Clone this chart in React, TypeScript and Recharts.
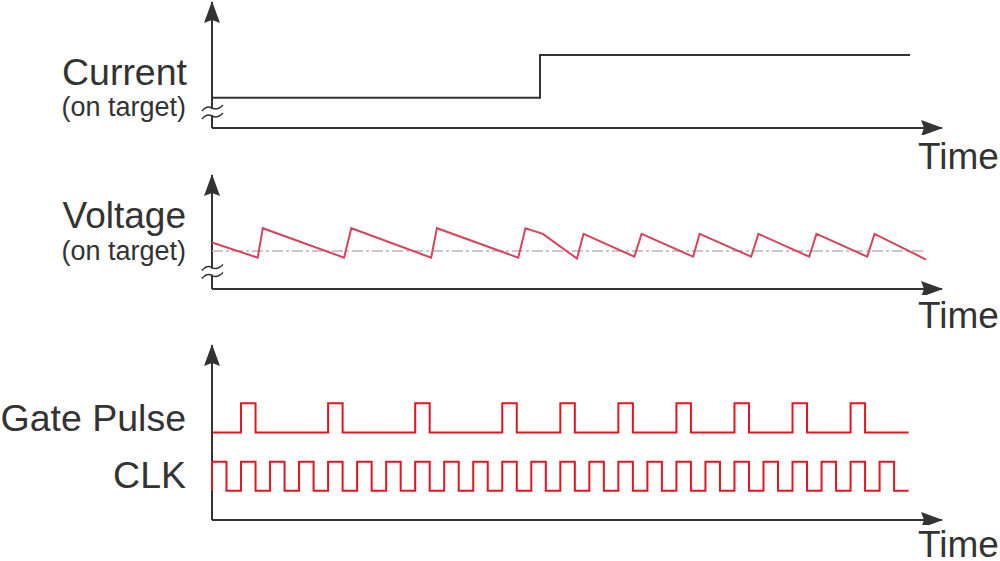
import React from 'react';
import { LineChart, Line, XAxis, YAxis, ReferenceLine, ReferenceDot } from 'recharts';

// time is in half clock periods
const TIME_MAX = 50.3;

// current on target: low, then steps up
const currentTimes = [0, 22.6, 48.1];
const currentLevels = [2.4, 5.8, 5.8];
const currentBreak = 1.27;

// voltage on target (sawtooth around the target level)
const voltTimes = [0, 3.15, 3.5, 9.1, 9.6, 15.1, 15.5, 21.1, 21.6, 22.8, 25.15, 25.6, 29.1, 29.6, 33.15, 33.6, 37.15, 37.65, 41.15, 41.65, 45.15, 45.65, 49.2];
const voltLevels = [4.9, 3.3, 6.4, 3.3, 6.4, 3.3, 6.4, 3.3, 6.4, 5.8, 3.2, 5.8, 3.4, 5.8, 3.4, 5.8, 3.4, 5.8, 3.4, 5.8, 3.4, 5.8, 3.1];
const voltTarget = 4.0;
const voltTargetEnd = 49.0;
const voltBreak = 1.84;

// gate pulse edges
const gateTimes = [0, 2, 3, 8, 9, 14, 15, 20, 21, 24, 25, 28, 29, 32, 33, 36, 37, 40, 41, 44, 45, 48];
const gateLevels = [6, 8, 6, 8, 6, 8, 6, 8, 6, 8, 6, 8, 6, 8, 6, 8, 6, 8, 6, 8, 6, 6];

// clock edges
const clkTimes = [0, 0, 1, 2, 3, 4, 5, 6, 7, 8, 9, 10, 11, 12, 13, 14, 15, 16, 17, 18, 19, 20, 21, 22, 23, 24, 25, 26, 27, 28, 29, 30, 31, 32, 33, 34, 35, 36, 37, 38, 39, 40, 41, 42, 43, 44, 45, 46, 47, 48];
const clkLevels = [2, 4, 2, 4, 2, 4, 2, 4, 2, 4, 2, 4, 2, 4, 2, 4, 2, 4, 2, 4, 2, 4, 2, 4, 2, 4, 2, 4, 2, 4, 2, 4, 2, 4, 2, 4, 2, 4, 2, 4, 2, 4, 2, 4, 2, 4, 2, 4, 2, 2];

const toRows = (times: number[], levels: number[]) => times.map((t, i) => ({ t, v: levels[i] }));

const AXIS = '#333333';
const FONT = '"Liberation Sans", Arial, sans-serif';

const ArrowDefs = ({ id }: { id: string }) => (
  <defs>
    <marker id={id} viewBox="0 0 22 16" refX={21} refY={8} markerWidth={22} markerHeight={16} markerUnits="userSpaceOnUse" orient="auto">
      <path d="M0,0 L22,8 L0,16 L3,8 Z" fill={AXIS} />
    </marker>
  </defs>
);

const BreakMark = (props: any) => {
  const { cx, cy } = props;
  return (
    <g>
      <rect x={cx - 3} y={cy - 3} width={6} height={6} fill="#fff" />
      <path d={`M${cx - 10},${cy - 1} q5,-6 10,-3 t11,-3`} fill="none" stroke={AXIS} strokeWidth={1.5} />
      <path d={`M${cx - 10},${cy + 7} q5,-6 10,-3 t11,-3`} fill="none" stroke={AXIS} strokeWidth={1.5} />
    </g>
  );
};

// hidden axes give the scales, the visible axes are arrowed segments
const axes = (id: string, max: number) => [
  <XAxis key="x" type="number" dataKey="t" domain={[0, TIME_MAX]} hide />,
  <YAxis key="y" type="number" domain={[0, max]} hide />,
  <ReferenceLine key="ax" segment={[{ x: 0, y: 0 }, { x: TIME_MAX, y: 0 }]} ifOverflow="visible"
    stroke={AXIS} strokeWidth={2} markerEnd={`url(#${id})`} />,
  <ReferenceLine key="ay" segment={[{ x: 0, y: 0 }, { x: 0, y: max }]} ifOverflow="visible"
    stroke={AXIS} strokeWidth={2} markerEnd={`url(#${id})`} />,
];

const Labels = () => (
  <svg width={1000} height={561} style={{ position: 'absolute', left: 0, top: 0, pointerEvents: 'none' }}>
    <g fill={AXIS} fontFamily={FONT}>
      <text x={187} y={85} fontSize={37.5} textAnchor="end">Current</text>
      <text x={186} y={116} fontSize={27} textAnchor="end">(on target)</text>
      <text x={186} y={228} fontSize={37} textAnchor="end">Voltage</text>
      <text x={186} y={260} fontSize={27} textAnchor="end">(on target)</text>
      <text x={186} y={431} fontSize={37.5} textAnchor="end">Gate Pulse</text>
      <text x={186} y={488} fontSize={37.5} textAnchor="end">CLK</text>
      <text x={918} y={169} fontSize={37}>Time</text>
      <text x={918} y={328} fontSize={37}>Time</text>
      <text x={918} y={557} fontSize={37}>Time</text>
    </g>
  </svg>
);

export default function App() {
  const margin = (top: number, bottom: number) => ({ top, bottom, left: 212, right: 1000 - 942 });
  return (
    <div style={{ position: 'absolute', left: 0, top: 0, width: 1000, height: 561, background: '#fff', overflow: 'hidden' }}>
      <div style={{ position: 'absolute', left: 0, top: 0 }}>
        <LineChart width={1000} height={135} margin={margin(2, 7)}>
          <ArrowDefs id="arrowCur" />
          {axes('arrowCur', 10)}
          <Line data={toRows(currentTimes, currentLevels)} dataKey="v" type="stepAfter" stroke={AXIS} strokeWidth={2}
            dot={false} activeDot={false} isAnimationActive={false} />
          <ReferenceDot x={0} y={currentBreak} shape={BreakMark} />
        </LineChart>
      </div>
      <div style={{ position: 'absolute', left: 0, top: 170 }}>
        <LineChart width={1000} height={125} margin={margin(5, 6)}>
          <ArrowDefs id="arrowVolt" />
          {axes('arrowVolt', 12)}
          <ReferenceLine segment={[{ x: 0, y: voltTarget }, { x: voltTargetEnd, y: voltTarget }]}
            stroke="#bdb3b6" strokeWidth={1.5} strokeDasharray="11 3 3 3" />
          <Line data={toRows(voltTimes, voltLevels)} dataKey="v" type="linear" stroke="#d5455f" strokeWidth={2}
            dot={false} activeDot={false} isAnimationActive={false} />
          <ReferenceDot x={0} y={voltBreak} shape={BreakMark} />
        </LineChart>
      </div>
      <div style={{ position: 'absolute', left: 0, top: 340 }}>
        <LineChart width={1000} height={185} margin={margin(5, 5)}>
          <ArrowDefs id="arrowSig" />
          {axes('arrowSig', 12)}
          <Line data={toRows(gateTimes, gateLevels)} dataKey="v" type="stepAfter" stroke="#e3151f" strokeWidth={2}
            dot={false} activeDot={false} isAnimationActive={false} />
          <Line data={toRows(clkTimes, clkLevels)} dataKey="v" type="stepAfter" stroke="#e3151f" strokeWidth={2}
            dot={false} activeDot={false} isAnimationActive={false} />
        </LineChart>
      </div>
      <Labels />
    </div>
  );
}
